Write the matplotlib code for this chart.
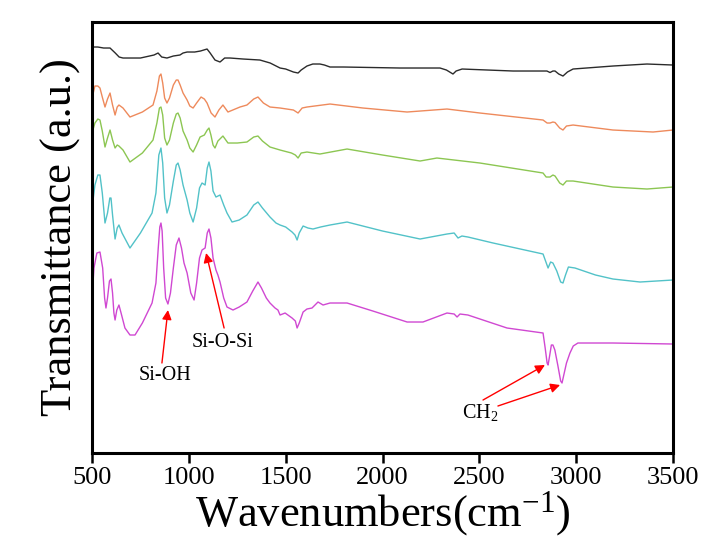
import matplotlib
matplotlib.use("Agg")
import matplotlib.pyplot as plt

plt.rcParams['font.family'] = ['Liberation Serif', 'DejaVu Serif']
plt.rcParams['mathtext.fontset'] = 'custom'
plt.rcParams['mathtext.rm'] = 'Liberation Serif'
plt.rcParams['mathtext.it'] = 'Liberation Serif:italic'

# spectra: wavenumber (cm-1) and transmittance (a.u., stacked)
black_wn = [500, 530, 560, 593, 620, 640, 660, 750, 820, 841, 860, 887, 920, 954, 970,
            991, 1030, 1060, 1094, 1110, 1135, 1161, 1185, 1213, 1280, 1367, 1420, 1471,
            1500, 1540, 1564, 1580, 1610, 1640, 1677, 1700, 1729, 1800, 2090, 2297, 2330,
            2364, 2380, 2411, 2674, 2849, 2865, 2880, 2891, 2910, 2932, 2955, 2984, 3190,
            3366, 3500]
black_t = [406, 406, 405, 405, 400, 396, 395, 395, 398, 400, 396, 395, 397, 398, 400,
           401, 401, 402, 404, 400, 393, 391, 395, 395, 394, 393, 390, 385,
           384, 381, 380, 383, 387, 389, 389, 388, 386, 386, 385, 385, 383,
           379, 382, 384, 382, 382, 380.5, 382, 382, 379, 377, 381, 384, 387,
           389, 388]

orange_wn = [500, 515, 530, 541, 553, 567, 580, 593, 606, 619, 630, 639, 660, 696, 760,
             815, 835, 848, 856, 865, 875, 887, 900, 920, 935, 944, 955, 970, 991, 1005,
             1022, 1040, 1063, 1080, 1094, 1115, 1135, 1155, 1176, 1202, 1264, 1300, 1335,
             1357, 1385, 1419, 1471, 1540, 1564, 1585, 1610, 1729, 1899, 2127, 2333, 2503,
             2829, 2850, 2865, 2880, 2891, 2915, 2932, 2950, 2984, 3190, 3397, 3500]
orange_t = [355, 367, 367, 365, 356, 346, 354, 360, 348, 338, 346, 348, 345, 336, 341,
            348, 362, 377, 379, 370, 355, 350, 355, 368, 373, 373, 368, 360, 353, 347,
            345, 350, 356, 354, 350, 340, 336, 343, 348, 341, 346, 348, 354,
            356, 350, 346, 345, 343, 340, 345, 346, 349, 345, 341, 344, 340,
            333, 330, 330, 331, 330.5, 325, 323, 327, 328, 323, 321, 323]

green_wn = [500, 515, 530, 541, 553, 567, 580, 593, 606, 619, 630, 639, 660, 696, 760,
            815, 835, 848, 856, 865, 875, 887, 900, 920, 935, 944, 955, 970, 991, 1005,
            1022, 1040, 1058, 1080, 1095, 1104, 1114, 1125, 1135, 1150, 1176, 1202, 1250,
            1300, 1335, 1357, 1380, 1419, 1471, 1530, 1550, 1564, 1580, 1610, 1677, 1817,
            2000, 2194, 2281, 2503, 2829, 2845, 2865, 2880, 2891, 2915, 2932, 2950, 2984,
            3190, 3366, 3500]
green_t = [320, 330, 334, 333, 322, 306, 315, 323, 313, 305, 308, 307, 303, 291, 300,
           313, 330, 345, 346, 338, 315, 308, 313, 330, 339, 340, 335, 322, 313, 305,
           301, 308, 316, 318, 323, 325, 318, 308, 305, 312, 317, 310, 310,
           311, 316, 317, 312, 306, 303, 300, 298, 295, 300, 301, 299, 304,
           298, 292, 295, 290, 280, 276, 276, 278, 277, 270, 268, 272, 272,
           266, 264, 266]

cyan_wn = [500, 515, 530, 541, 553, 567, 580, 592, 598, 606, 619, 630, 639, 655, 696,
           750, 810, 830, 845, 856, 865, 875, 887, 900, 920, 935, 944, 955, 970, 991,
           1005, 1022, 1040, 1055, 1068, 1084, 1095, 1104, 1114, 1125, 1140, 1161, 1180,
           1197, 1223, 1260, 1300, 1335, 1357, 1380, 1419, 1450, 1471, 1500, 1533, 1548,
           1559, 1570, 1590, 1615, 1641, 1680, 1729, 1817, 2000, 2194, 2333, 2370, 2390,
           2410, 2441, 2571, 2829, 2842, 2855, 2868, 2880, 2900, 2920, 2932, 2945, 2960,
           2994, 3100, 3190, 3330, 3500]
cyan_t = [245, 268, 278, 278, 260, 230, 240, 255, 255, 238, 214, 225, 228, 220, 205,
          220, 240, 260, 298, 305, 290, 255, 240, 248, 272, 288, 290, 283, 268, 253,
          240, 231, 245, 265, 270, 268, 285, 291, 282, 262, 256, 258, 248,
          240, 231, 233, 238, 248, 251, 245, 236, 230, 228, 226, 221, 218,
          213, 220, 227, 225, 224, 226, 228, 231, 222, 214, 219, 220, 215,
          217, 216, 210, 199, 192, 185, 191, 190, 182, 171, 170, 178, 186,
          185, 178, 174, 171, 173]

magenta_wn = [500, 510, 525, 541, 555, 565, 572, 580, 590, 598, 606, 613, 619, 628, 639,
              650, 670, 696, 722, 760, 810, 830, 842, 850, 856, 862, 870, 880, 892, 905,
              920, 935, 949, 962, 975, 991, 1010, 1027, 1040, 1055, 1068, 1084, 1095, 1104,
              1114, 1125, 1140, 1150, 1161, 1180, 1197, 1228, 1260, 1300, 1330, 1357, 1375,
              1400, 1419, 1445, 1460, 1471, 1497, 1533, 1550, 1559, 1570, 1590, 1610, 1636,
              1667, 1693, 1729, 1817, 1950, 2127, 2209, 2333, 2370, 2385, 2400, 2441, 2643,
              2829, 2840, 2850, 2855, 2862, 2872, 2880, 2890, 2905, 2920, 2927, 2935, 2950,
              2968, 2985, 3009, 3190, 3500]
magenta_t = [155, 185, 200, 201, 185, 155, 145, 155, 172, 174, 160, 140, 133, 143, 148,
             140, 125, 118, 118, 130, 150, 170, 205, 226, 230, 222, 185, 155, 149, 160,
             185, 208, 215, 205, 190, 180, 160, 153, 170, 195, 203, 205, 220, 224,
             215, 195, 183, 178, 171, 155, 146, 143, 146, 151, 162, 171, 165,
             155, 150, 145, 143, 138, 140, 135, 132, 125, 130, 141, 144, 145,
             151, 148, 150, 150, 142, 131, 131, 140, 139, 136, 139, 138, 125,
             120, 105, 90, 88, 96, 108, 108, 103, 88, 72, 70, 77, 90,
             100, 107, 110, 110, 109]

series = [
    (black_wn, black_t, '#2b2b2b'),
    (orange_wn, orange_t, '#ee8a5c'),
    (green_wn, green_t, '#8cc652'),
    (cyan_wn, cyan_t, '#52c2c8'),
    (magenta_wn, magenta_t, '#d048d2'),
]

fig = plt.figure(figsize=(7.03, 5.45), dpi=100)
ax = fig.add_axes([0.1309, 0.1688, 0.8264, 0.7908])

for wn, t, c in series:
    ax.plot(wn, t, color=c, lw=1.0, solid_joinstyle='round')

ax.set_xlim(500, 3500)
ax.set_ylim(0, 431)
ax.set_xticks([500, 1000, 1500, 2000, 2500, 3000, 3500])
ax.set_yticks([])
ax.tick_params(axis='x', direction='out', length=7, width=1.8, labelsize=19, pad=3)
for s in ax.spines.values():
    s.set_linewidth(2.2)

ax.set_xlabel('Wavenumbers(cm$^{-1}$)', fontsize=32, labelpad=0)
ax.set_ylabel('Transmittance (a.u.)', fontsize=32, labelpad=8)

arrow = dict(arrowstyle='-|>', color='red', lw=1.0, mutation_scale=14, shrinkA=0, shrinkB=0)
ax.text(877, 78, 'Si-OH', fontsize=14.5, ha='center', va='center')
ax.annotate('', xy=(892, 143), xytext=(861, 90), arrowprops=arrow)
ax.text(1176, 111, 'Si-O-Si', fontsize=14.5, ha='center', va='center')
ax.annotate('', xy=(1089, 200), xytext=(1182, 125), arrowprops=arrow)
ax.text(2503, 41, 'CH$_2$', fontsize=14.5, ha='center', va='center')
ax.annotate('', xy=(2839, 88), xytext=(2519, 53), arrowprops=arrow)
ax.annotate('', xy=(2917, 68), xytext=(2596, 47), arrowprops=arrow)

fig.savefig('out.png', dpi=100)
